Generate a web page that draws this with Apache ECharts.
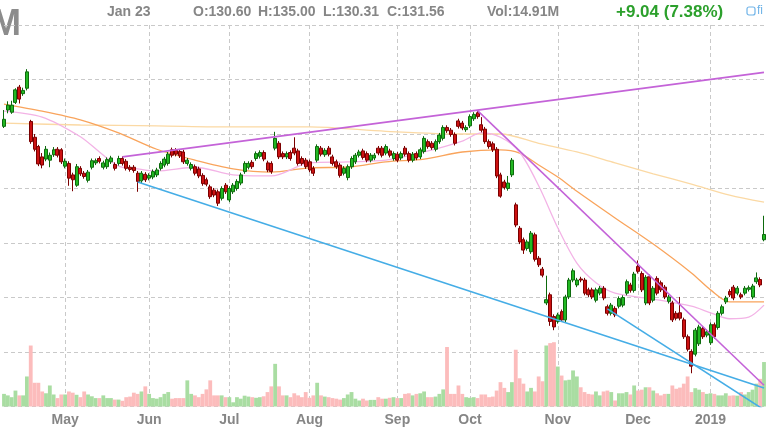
<!DOCTYPE html>
<html>
<head>
<meta charset="utf-8">
<script src="https://cdn.jsdelivr.net/npm/echarts@6/dist/echarts.min.js"></script>
<style>
html,body{margin:0;padding:0;background:#fff;}
#c{width:768px;height:432px;}
</style>
</head>
<body>
<div id="c"></div>
<script>
// ---- data ----
const monthNames = ['Apr','May','Jun','Jul','Aug','Sep','Oct','Nov','Dec','Jan'];
const monthNums = [4,5,6,7,8,9,10,11,12,1];
const monthYears = [2018,2018,2018,2018,2018,2018,2018,2018,2018,2019];
const tradingDays = [
  [9,10,11,12,13,16,17,18,19,20,23,24,25,26,27,30],
  [1,2,3,4,7,8,9,10,11,14,15,16,17,18,21,22,23,24,25,29,30,31],
  [1,4,5,6,7,8,11,12,13,14,15,18,19,20,21,22,25,26,27,28,29],
  [2,3,5,6,9,10,11,12,13,16,17,18,19,20,23,24,25,26,27,30,31],
  [1,2,3,6,7,8,9,10,13,14,15,16,17,20,21,22,23,24,27,28,29,30,31],
  [4,5,6,7,10,11,12,13,14,17,18,19,20,21,24,25,26,27,28],
  [1,2,3,4,5,8,9,10,11,12,15,16,17,18,19,22,23,24,25,26,29,30,31],
  [1,2,5,6,7,8,9,12,13,14,15,16,19,20,21,23,26,27,28,29,30],
  [3,4,6,7,10,11,12,13,14,17,18,19,20,21,24,26,27,28,31],
  [2,3,4,7,8,9,10,11,14,15,16,17,18,22,23]
];
const monthTickLabels = ['', 'May','Jun','Jul','Aug','Sep','Oct','Nov','Dec','2019'];

const opens = [
151.4,154.4,154.0,155.8,158.6,157.4,158.4,152.3,149.4,147.7,
145.8,145.4,145.2,146.2,147.2,147.1,144.1,144.6,142.5,140.6,
143.7,142.8,141.5,143.9,144.7,145.5,143.9,144.0,144.9,144.4,
144.6,145.5,145.0,143.9,143.9,142.8,141.4,142.6,141.9,142.1,
142.5,143.7,144.3,144.6,147.1,147.0,146.8,146.7,144.6,143.7,
144.0,143.6,142.4,141.6,140.3,139.7,139.4,138.2,140.6,137.9,
139.4,140.0,141.0,143.1,143.9,144.8,145.5,145.9,146.6,144.7,
144.6,147.4,148.3,146.4,145.8,146.6,147.4,146.9,145.5,145.2,
144.9,143.7,145.2,147.4,146.2,147.4,145.8,144.9,144.3,142.8,
142.0,144.0,144.9,146.1,146.9,146.4,145.2,145.6,147.4,147.4,
146.5,146.9,145.5,146.3,145.6,147.4,146.4,145.2,146.4,145.8,
146.8,148.6,148.3,147.2,148.6,149.2,151.2,150.7,149.9,152.4,
152.0,150.8,151.5,152.8,153.9,151.7,150.9,148.6,148.2,147.2,
142.5,141.2,140.0,142.5,137.0,132.7,130.6,129.0,128.4,131.5,
127.2,125.2,119.0,120.5,116.5,115.6,117.4,115.9,120.1,123.2,
122.3,123.4,123.2,121.4,121.4,119.5,120.8,121.7,118.3,117.1,
118.0,118.4,118.6,120.8,122.3,121.3,125.7,124.4,119.0,123.8,
119.5,123.5,122.7,121.9,119.3,119.0,117.1,117.2,115.9,112.8,
110.1,109.6,111.5,114.3,113.1,111.7,115.0,114.5,117.1,119.2,
121.1,121.9,120.8,120.5,120.8,121.5,120.1,122.9,123.3,130.60
];
const closes = [
152.7,155.3,155.3,158.1,156.4,158.0,161.4,148.6,147.2,144.5,
144.3,147.2,146.1,147.1,146.1,144.9,145.0,141.9,141.6,144.0,
142.7,142.2,143.0,145.1,145.1,145.0,144.7,145.3,145.6,143.7,
145.5,144.6,143.7,143.5,143.3,141.3,142.8,141.6,142.4,143.1,
143.4,144.6,145.4,146.3,146.1,146.3,146.0,144.9,145.2,144.4,
142.8,142.3,140.9,140.8,138.5,138.8,137.3,140.0,139.4,140.0,
140.6,141.3,142.5,144.6,144.6,144.0,146.4,146.6,145.4,143.4,
143.1,149.2,145.8,145.8,146.4,145.5,146.5,144.6,144.6,144.0,
143.4,142.8,147.7,146.3,147.0,146.3,144.6,144.0,142.4,143.7,
144.0,145.5,146.1,146.7,145.7,145.2,146.1,146.1,146.5,146.1,
147.7,146.1,146.4,145.2,146.4,146.3,145.2,146.3,145.6,147.1,
149.2,147.7,147.5,148.6,149.8,151.2,150.6,149.9,148.3,151.4,
151.1,151.2,153.2,153.6,153.2,150.7,148.6,147.7,147.1,142.3,
138.6,140.2,141.0,145.2,133.3,130.2,128.7,130.2,131.8,127.0,
126.0,124.1,119.6,115.6,114.6,116.8,115.9,120.1,123.2,124.9,
123.2,123.2,120.8,120.5,120.1,121.4,121.7,119.9,117.1,118.6,
116.8,119.8,120.0,122.9,121.3,124.3,124.8,121.4,123.7,119.0,
121.7,120.8,121.4,120.1,120.1,115.9,116.2,116.2,112.8,110.5,
107.4,114.0,114.6,112.8,113.7,115.0,112.8,117.1,118.3,119.9,
120.5,119.9,121.7,120.1,121.7,121.8,122.1,123.6,122.3,131.56
];
const highs = [
154.4,156.0,156.1,158.4,159.0,158.5,161.9,152.6,150.0,148.0,
146.5,147.8,146.6,147.6,147.6,147.4,145.5,145.0,142.9,144.5,
144.1,143.2,143.4,145.5,145.5,145.9,145.1,145.7,146.0,144.8,
146.0,145.9,145.4,144.3,144.3,143.2,143.2,143.0,142.8,143.5,
143.8,145.0,145.8,146.7,147.5,147.4,147.2,147.1,145.6,144.8,
144.4,144.0,142.8,142.0,140.7,140.1,139.8,140.4,141.0,140.4,
141.0,141.7,142.9,145.0,145.0,145.2,146.8,147.0,147.0,145.1,
145.0,150.4,148.7,146.8,146.8,147.0,149.4,147.3,145.9,145.6,
145.3,144.1,148.1,147.8,147.4,147.8,146.2,145.3,144.7,144.1,
144.4,145.9,146.5,147.1,147.3,146.8,146.5,146.5,147.8,147.8,
148.1,147.3,146.8,146.7,146.8,147.8,146.8,146.7,146.8,147.5,
149.6,149.0,148.7,149.0,150.2,151.6,151.6,151.1,150.3,152.8,
152.4,151.6,153.6,154.0,154.4,153.1,151.3,149.0,148.6,147.6,
142.9,141.6,142.3,145.6,137.4,133.1,131.0,130.6,132.2,131.9,
127.6,125.6,124.0,120.9,116.9,117.2,117.8,120.5,123.6,125.3,
123.6,123.8,123.6,121.8,121.8,121.8,122.1,122.1,118.7,119.0,
118.4,120.2,120.4,123.3,122.7,124.7,126.8,124.8,124.1,124.2,
122.1,123.9,123.1,122.3,120.5,119.4,117.5,120.1,116.3,113.2,
110.5,114.4,115.0,114.7,114.1,115.4,115.4,117.5,118.7,120.3,
121.5,122.3,122.1,120.9,122.1,122.2,122.5,124.6,123.7,135.00
];
const lows = [
151.1,153.8,153.7,155.5,155.6,157.0,158.0,148.2,146.8,144.1,
143.7,145.0,143.9,145.8,145.7,144.5,143.7,140.5,139.5,140.3,
142.3,141.8,141.1,143.5,144.3,144.6,143.5,143.6,144.5,143.3,
144.2,144.2,143.3,143.1,142.9,139.4,141.0,141.2,141.5,141.7,
142.1,143.3,143.9,144.2,145.7,145.9,145.6,144.5,144.2,143.3,
142.4,141.9,140.5,140.4,138.1,138.4,136.8,137.8,139.0,137.5,
139.0,139.6,140.6,142.7,143.5,143.6,145.1,145.5,145.0,143.0,
142.7,147.0,145.4,145.4,145.4,145.1,146.1,144.2,144.2,143.6,
143.0,142.3,144.8,145.9,145.8,145.9,144.2,143.6,142.0,142.4,
141.5,143.6,144.5,145.7,145.3,144.8,144.8,145.2,146.1,145.7,
146.1,145.7,145.1,144.8,145.2,145.9,144.8,144.8,145.2,145.4,
146.4,147.3,147.1,146.8,148.2,148.8,150.2,149.5,147.9,151.0,
150.7,150.4,151.1,152.4,152.8,150.3,148.2,147.3,146.7,141.9,
138.3,139.8,139.6,142.1,132.9,129.8,128.0,128.6,128.0,126.6,
125.6,123.7,118.6,114.8,114.0,115.2,115.5,115.5,119.7,122.8,
121.9,122.8,120.4,120.1,119.7,119.1,120.4,119.5,116.7,116.7,
116.4,118.0,118.2,120.4,120.9,120.9,124.4,121.0,118.6,118.6,
119.1,120.4,121.0,119.7,118.9,115.5,115.8,115.8,112.4,110.1,
106.1,109.2,111.1,112.4,112.7,111.3,112.4,114.1,116.7,118.8,
120.1,119.5,120.4,119.7,120.4,121.1,119.7,122.5,121.9,130.31
];
// volume in millions
const volumes = [
4.2,3.7,3.1,5.3,3.7,3.7,10,20.3,7.9,7.9,
5,4.4,7,4,2.8,4,4,5,4.6,3.9,
3.1,5,4,3.4,2.8,2.8,3.7,2.8,2.8,2.3,
2.3,1.9,3.1,3.3,4.6,4.2,5,6.7,4.2,2.8,
2.6,3.1,4.2,4.8,2.6,2.8,2.8,2.8,8.7,4.2,
3.7,3.1,4.2,5.7,8.7,3.7,3.7,3.7,3.1,3.1,
1.4,3.1,2.6,3.6,3.3,3.1,2.9,3.1,3.4,4.8,
6.7,14.2,6.7,3.7,3.7,3.1,4.4,3.7,3.1,4.8,
2.9,3.7,7.9,3.7,3.3,3.1,2.8,2.6,2.3,2.8,
4,4.8,2.6,2,2.6,2,2.2,2.2,3.1,2.6,
2.6,2.9,3.1,2.8,2.8,4.2,4.4,3.7,4.2,4.4,
5,3.1,3.1,3.3,4.2,5.7,19.8,4.2,4.2,7,
4.2,3.1,2.9,3.1,2.8,4,4,3.1,3.3,5.3,
8.1,6.2,4.8,8.1,18.9,9.4,7.6,5,6.2,5,
10,8.4,20.3,21.1,21.4,13.3,10.3,8.7,8.9,12,
10,6.4,4.8,4.2,4,5,3.7,5,5.3,4.8,
2,4.4,4.4,4.8,4,7,5.3,5.6,6.4,6.4,
5.3,4.4,3.7,4.2,4.2,7,5.9,6.3,7.6,10,
4.8,6.1,5.6,4.8,4.2,4.4,4.2,3.7,3.7,4.4,
3.6,3.7,3.6,4.8,4,4.8,5.6,7.6,9.2,14.8
];

// moving averages, read at sample days (day index -> price)
const ma20Idx  = [0,10,20,25,30,35,40,50,60,70,80,90,100,110,120,125,130,135,140,145,150,155,160,170,180,185,190,195,199];
const ma20Vals = [154.2,153.1,149.5,146.7,144.1,143.6,143.2,143.9,142.5,142.3,144.7,144.9,145.2,146.7,148.7,150.2,149.4,146.7,140.5,132.8,126.3,122.7,120.8,119.7,118.4,117.2,116.1,116.4,118.6];
const ma50Idx  = [0,10,20,30,40,50,60,70,80,90,100,110,120,130,135,140,145,150,160,170,180,185,190,199];
const ma50Vals = [155.5,154.2,152.6,150.2,147.2,145.2,143.6,143.0,143.8,143.9,144.9,145.4,146.7,147.1,146.5,144.3,142.1,139.5,134.6,129.8,124.5,121.4,119.2,119.2];
const ma200Idx  = [0,20,40,60,80,100,120,130,140,150,160,170,180,190,199];
const ma200Vals = [152.0,151.65,151.5,151.3,151.3,150.5,150.0,150.0,148.3,146.7,144.7,142.7,140.8,138.8,137.5];

// trend lines (day index -> price)
const trendUpIdx = [31,199],   trendUpVals = [145.8,161.3];
const trendDownIdx = [124,199], trendDownVals = [154.3,103.9];
const supportAIdx = [35,199],  supportAVals = [141.2,103.4];
const supportBIdx = [158,199], supportBVals = [117.9,99.4];

// ---- build ----
const dates = [];
const monthStart = {};
tradingDays.forEach((days, m) => {
  days.forEach((d, k) => {
    if (k === 0 && m > 0) monthStart[dates.length] = monthTickLabels[m];
    dates.push(monthYears[m] + '-' + String(monthNums[m]).padStart(2,'0') + '-' + String(d).padStart(2,'0'));
  });
});
const candles = opens.map((o, i) => [o, closes[i], lows[i], highs[i]]);
const pairs = (idx, vals) => idx.map((x, k) => [x, vals[k]]);
const isMonthStart = (i) => monthStart[i] !== undefined;

const gray = '#868686';
const font = 'Liberation Sans, Arial, sans-serif';

const chart = echarts.init(document.getElementById('c'), null, {renderer: 'canvas'});
chart.setOption({
  animation: false,
  backgroundColor: '#ffffff',
  grid: {left: 4, right: 4, top: 25, bottom: 25.5, containLabel: false},
  xAxis: {
    type: 'category',
    data: dates,
    boundaryGap: false,
    axisLine: {show: false},
    axisTick: {show: false},
    axisLabel: {
      interval: (i) => isMonthStart(i),
      formatter: (v, i) => monthStart[i] || '',
      color: gray, fontFamily: font, fontWeight: 'bold', fontSize: 14, margin: 7
    },
    splitLine: {
      show: true,
      interval: (i) => isMonthStart(i),
      lineStyle: {color: '#c9c9c9', type: [4, 3], width: 1}
    }
  },
  yAxis: [
    {
      type: 'value', min: 100, max: 170, interval: 10,
      axisLine: {show: false}, axisTick: {show: false}, axisLabel: {show: false},
      splitLine: {show: true, lineStyle: {color: '#c9c9c9', type: [4, 3], width: 1}}
    },
    {
      type: 'value', min: 0, max: 127,
      axisLine: {show: false}, axisTick: {show: false}, axisLabel: {show: false},
      splitLine: {show: false}
    }
  ],
  series: [
    {
      type: 'bar', yAxisIndex: 1, data: volumes, barCategoryGap: '0%', z: 1,
      itemStyle: {color: (p) => closes[p.dataIndex] >= opens[p.dataIndex] ? '#a9dda2' : '#fcbcbc'}
    },
    {type: 'line', data: pairs(ma200Idx, ma200Vals), smooth: 0.3, symbol: 'none', z: 2,
      lineStyle: {color: '#fbd9a4', width: 1.3}},
    {type: 'line', data: pairs(ma50Idx, ma50Vals), smooth: 0.3, symbol: 'none', z: 2,
      lineStyle: {color: '#f9a45c', width: 1.3}},
    {type: 'line', data: pairs(ma20Idx, ma20Vals), smooth: 0.3, symbol: 'none', z: 2,
      lineStyle: {color: '#f3b3e6', width: 1.3}},
    {
      type: 'candlestick', data: candles, barWidth: 3.5, clip: false, z: 3,
      itemStyle: {color: '#22b822', color0: '#cc1111', borderColor: '#0d6a0d', borderColor0: '#7a0000', borderWidth: 1}
    },
    {type: 'line', data: pairs(trendUpIdx, trendUpVals), symbol: 'none', z: 4,
      lineStyle: {color: '#c463d8', width: 1.6}},
    {type: 'line', data: pairs(trendDownIdx, trendDownVals), symbol: 'none', z: 4,
      lineStyle: {color: '#c463d8', width: 1.6}},
    {type: 'line', data: pairs(supportAIdx, supportAVals), symbol: 'none', z: 4,
      lineStyle: {color: '#45ade6', width: 1.6}},
    {type: 'line', data: pairs(supportBIdx, supportBVals), symbol: 'none', z: 4,
      lineStyle: {color: '#45ade6', width: 1.6}}
  ],
  graphic: [
    {type: 'text', x: 21, y: 25, style: {text: 'IBM', font: 'bold 36px ' + font, fill: '#8c8c8c', align: 'right', verticalAlign: 'middle'}},
    {type: 'text', x: 107, y: 12, style: {text: 'Jan 23', font: 'bold 14px ' + font, fill: gray, verticalAlign: 'middle'}},
    {type: 'text', x: 193, y: 12, style: {text: 'O:130.60', font: 'bold 14px ' + font, fill: gray, verticalAlign: 'middle'}},
    {type: 'text', x: 258, y: 12, style: {text: 'H:135.00', font: 'bold 14px ' + font, fill: gray, verticalAlign: 'middle'}},
    {type: 'text', x: 323, y: 12, style: {text: 'L:130.31', font: 'bold 14px ' + font, fill: gray, verticalAlign: 'middle'}},
    {type: 'text', x: 387, y: 12, style: {text: 'C:131.56', font: 'bold 14px ' + font, fill: gray, verticalAlign: 'middle'}},
    {type: 'text', x: 487, y: 12, style: {text: 'Vol:14.91M', font: 'bold 14px ' + font, fill: gray, verticalAlign: 'middle'}},
    {type: 'text', x: 616, y: 12, style: {text: '+9.04 (7.38%)', font: 'bold 17px ' + font, fill: '#2ca02c', verticalAlign: 'middle'}},
    {type: 'rect', x: 747, y: 7, shape: {width: 8, height: 8, r: 2}, style: {fill: 'none', stroke: '#6fb3e8', lineWidth: 1.2}},
    {type: 'text', x: 757, y: 11, style: {text: 'fi', font: '12px ' + font, fill: '#6fb3e8', verticalAlign: 'middle'}}
  ]
});
</script>
</body>
</html>
